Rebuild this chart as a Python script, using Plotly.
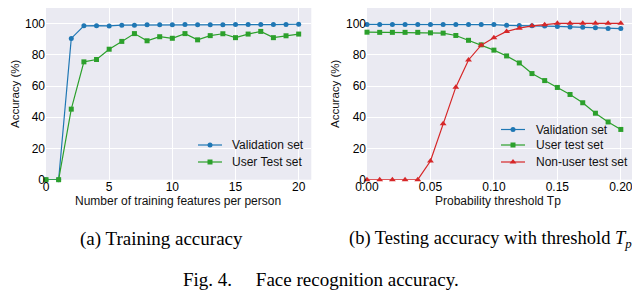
import plotly.graph_objects as go

# ---- data ----
feat_x = list(range(0, 21))
feat_val = [0, 0, 90.5, 98.6, 98.7, 98.5, 99.0, 99.0, 99.3, 99.3, 99.3, 99.4, 99.3, 99.3, 99.3, 99.4, 99.4, 99.4, 99.4, 99.5, 99.6]
feat_user = [0, 0, 45.2, 75.5, 77.0, 83.6, 88.6, 93.6, 89.0, 91.6, 90.6, 93.6, 89.6, 92.3, 93.5, 91.0, 93.3, 95.0, 91.0, 92.2, 93.3]

thr_x = [0.00, 0.01, 0.02, 0.03, 0.04, 0.05, 0.06, 0.07, 0.08, 0.09, 0.10,
         0.11, 0.12, 0.13, 0.14, 0.15, 0.16, 0.17, 0.18, 0.19, 0.20]
thr_val = [99.5, 99.5, 99.5, 99.5, 99.5, 99.5, 99.5, 99.5, 99.5, 99.5, 99.4,
           98.9, 98.8, 98.6, 98.4, 98.2, 97.9, 97.6, 97.3, 96.9, 96.8]
thr_user = [94.5, 94.4, 94.4, 94.4, 94.4, 94.1, 93.9, 92.4, 89.3, 86.4, 83.0,
            79.3, 74.8, 68.0, 63.5, 59.1, 54.6, 49.3, 42.6, 37.0, 32.2]
thr_nonuser = [0, 0, 0, 0, 0, 12.0, 35.9, 59.3, 76.7, 86.2, 91.0,
               95.0, 97.1, 98.6, 99.3, 100.2, 100.2, 100.2, 100.2, 100.2, 100.2]

y_ticks = [0, 20, 40, 60, 80, 100]
left_xticks = [0, 5, 10, 15, 20]
right_xticks = [0.00, 0.05, 0.10, 0.15, 0.20]
right_xticklabels = ["0.00", "0.05", "0.10", "0.15", "0.20"]

BLUE = "#1f77b4"
GREEN = "#2ca02c"
RED = "#d62728"
BG = "#EAEAF2"
FONT = "Liberation Sans, Arial, sans-serif"
SERIF = "Liberation Serif, Times New Roman, serif"

W, H = 640, 290
Y_BOT = 171.7
y_dom = [(H - Y_BOT) / H, 1.0]
L0, L1 = 38.0, 303.3
R0, R1 = 359.0, 625.5
lx_dom = [L0 / W, L1 / W]
rx_dom = [R0 / W, R1 / W]

fig = go.Figure()

def line(x, y, color, symbol, xa, ya, name, size=5):
    fig.add_trace(go.Scatter(
        x=x, y=y, mode="lines+markers", name=name,
        line=dict(color=color, width=1.2),
        marker=dict(color=color, symbol=symbol, size=size),
        xaxis=xa, yaxis=ya, showlegend=False, cliponaxis=False))

line(feat_x, feat_val, BLUE, "circle", "x", "y", "Validation set")
line(feat_x, feat_user, GREEN, "square", "x", "y", "User Test set")
line(thr_x, thr_val, BLUE, "circle", "x2", "y2", "Validation set")
line(thr_x, thr_user, GREEN, "square", "x2", "y2", "User test set")
line(thr_x, thr_nonuser, RED, "triangle-up", "x2", "y2", "Non-user test set", size=6)

axis_common = dict(showgrid=True, gridcolor="white", gridwidth=1.2, zeroline=False,
                   showline=False, ticks="", automargin=False,
                   tickfont=dict(family=FONT, size=12, color="#000"))

fig.update_layout(
    template="none",
    width=W, height=H, margin=dict(l=0, r=0, t=0, b=0, pad=0),
    paper_bgcolor="white", plot_bgcolor=BG, showlegend=False,
    xaxis=dict(domain=lx_dom, range=[0, 21], tickvals=left_xticks, anchor="y",
               ticklabelstandoff=-2, **axis_common),
    yaxis=dict(domain=y_dom, range=[0, 110], tickvals=y_ticks, anchor="x", **axis_common),
    xaxis2=dict(domain=rx_dom, range=[0, 0.21], tickvals=right_xticks, ticktext=right_xticklabels,
                anchor="y2", ticklabelstandoff=-2, **axis_common),
    yaxis2=dict(domain=y_dom, range=[0, 110], tickvals=y_ticks, anchor="x2", **axis_common),
)

ann = []
def txt(x, y, text, size=11, family=FONT, angle=0, xanchor="center", color="#111"):
    ann.append(dict(x=x / W, y=1 - y / H, xref="paper", yref="paper", text=text, showarrow=False,
                    font=dict(family=family, size=size, color=color), textangle=angle,
                    xanchor=xanchor, yanchor="middle"))

# axis titles
txt(7, 86, "Accuracy (%)", size=11.5, angle=-90)
txt(327, 86, "Accuracy (%)", size=11.5, angle=-90)
txt(170, 193.5, "Number of training features per person", size=12)
txt(490, 193.5, "Probability threshold Tp", size=12)

shapes = []
px_per_unit = Y_BOT / 110.0

def leg(x0, x1, y, color, symbol, label, xtext, xa, ya, dom0, dom1, xmax, size):
    shapes.append(dict(type="line", xref="paper", yref="paper", x0=x0 / W, x1=x1 / W,
                       y0=1 - y / H, y1=1 - y / H, line=dict(color=color, width=1.2)))
    txt(xtext, y, label, size=12, xanchor="left")
    xm = (x0 + x1) / 2
    fig.add_trace(go.Scatter(x=[(xm - dom0) / (dom1 - dom0) * xmax], y=[(Y_BOT - y) / px_per_unit],
                             mode="markers", marker=dict(color=color, symbol=symbol, size=size),
                             xaxis=xa, yaxis=ya, showlegend=False, cliponaxis=False))

legend_left = [("Validation set", BLUE, "circle", 137, 5), ("User Test set", GREEN, "square", 154, 5)]
for lab, c, s, y, sz in legend_left:
    leg(190, 214, y, c, s, lab, 222, "x", "y", L0, L1, 21, sz)

legend_right = [("Validation set", BLUE, "circle", 121.5, 5), ("User test set", GREEN, "square", 137, 5),
                ("Non-user test set", RED, "triangle-up", 154, 6)]
for lab, c, s, y, sz in legend_right:
    leg(493, 517, y, c, s, lab, 526, "x2", "y2", R0, R1, 0.21, sz)

# captions
txt(153, 231, "(a) Training accuracy", size=19, family=SERIF, color="#000")
txt(482, 231, "(b) Testing accuracy with threshold <i>T</i><sub><i>p</i></sub>",
    size=18.5, family=SERIF, color="#000")
txt(313, 271, "Fig. 4.&nbsp;&nbsp;&nbsp;&nbsp;&nbsp;Face recognition accuracy.", size=19, family=SERIF, color="#000")

fig.update_layout(annotations=ann, shapes=shapes)
fig.write_html("out.html")
